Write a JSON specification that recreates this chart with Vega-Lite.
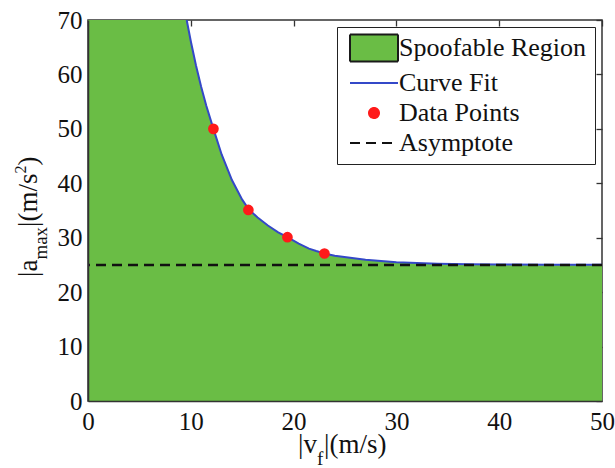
{
  "$schema": "https://vega.github.io/schema/vega-lite/v6.json",
  "width": 514,
  "height": 381,
  "autosize": {"type": "none"},
  "padding": {"left": 88, "top": 20, "right": 13, "bottom": 67},
  "background": "white",
  "config": {
    "font": "Liberation Serif",
    "view": {"stroke": "#333333", "strokeWidth": 1.5},
    "axis": {"labelFont": "Liberation Serif", "labelFontSize": 25, "labelColor": "#111111", "grid": false},
    "legend": {"orient": "top-right", "offset": 7, "padding": 8, "fillColor": "white", "strokeColor": "#222222", "labelFont": "Liberation Serif", "labelFontSize": 26, "labelColor": "#111111", "labelOffset": 12, "symbolOffset": 16, "symbolSize": 100, "symbolStrokeWidth": 2, "rowPadding": 4, "labelLimit": 400}
  },
  "datasets": {
    "region": [
      {"v": 0, "a": 70}, {"v": 9.6, "a": 70}, {"v": 10, "a": 66.1}, {"v": 10.5, "a": 61.7}, {"v": 11, "a": 57.8}, {"v": 11.5, "a": 54.3}, {"v": 12.2, "a": 50}, {"v": 13, "a": 45.3}, {"v": 14, "a": 40.6}, {"v": 15, "a": 37}, {"v": 15.6, "a": 35.3}, {"v": 16.5, "a": 33.7}, {"v": 17.5, "a": 32.25}, {"v": 18.5, "a": 31}, {"v": 19.4, "a": 30.1}, {"v": 20.5, "a": 28.9}, {"v": 21.5, "a": 28}, {"v": 22.2, "a": 27.55}, {"v": 23, "a": 27.1}, {"v": 24, "a": 26.7}, {"v": 25.5, "a": 26.3}, {"v": 27, "a": 25.95}, {"v": 28.5, "a": 25.7}, {"v": 30, "a": 25.5}, {"v": 32, "a": 25.35}, {"v": 34, "a": 25.23}, {"v": 37, "a": 25.13}, {"v": 40, "a": 25.07}, {"v": 45, "a": 25.03}, {"v": 50, "a": 25.01}
    ],
    "curve": [
      {"v": 9.6, "a": 70}, {"v": 10, "a": 66.1}, {"v": 10.5, "a": 61.7}, {"v": 11, "a": 57.8}, {"v": 11.5, "a": 54.3}, {"v": 12.2, "a": 50}, {"v": 13, "a": 45.3}, {"v": 14, "a": 40.6}, {"v": 15, "a": 37}, {"v": 15.6, "a": 35.3}, {"v": 16.5, "a": 33.7}, {"v": 17.5, "a": 32.25}, {"v": 18.5, "a": 31}, {"v": 19.4, "a": 30.1}, {"v": 20.5, "a": 28.9}, {"v": 21.5, "a": 28}, {"v": 22.2, "a": 27.55}, {"v": 23, "a": 27.1}, {"v": 24, "a": 26.7}, {"v": 25.5, "a": 26.3}, {"v": 27, "a": 25.95}, {"v": 28.5, "a": 25.7}, {"v": 30, "a": 25.5}, {"v": 32, "a": 25.35}, {"v": 34, "a": 25.23}, {"v": 37, "a": 25.13}, {"v": 40, "a": 25.07}, {"v": 45, "a": 25.03}, {"v": 50, "a": 25.01}
    ],
    "points": [
      {"v": 12.2, "a": 50}, {"v": 15.6, "a": 35.1}, {"v": 19.4, "a": 30.1}, {"v": 23.0, "a": 27.1}
    ]
  },
  "resolve": {"axis": {"x": "independent", "y": "independent"}},
  "layer": [
    {
      "data": {"name": "region"},
      "mark": {"type": "area", "opacity": 1, "clip": true},
      "encoding": {
        "x": {"field": "v", "type": "quantitative", "scale": {"domain": [0, 50], "nice": false},
          "axis": {"orient": "bottom", "values": [0, 10, 20, 30, 40, 50], "ticks": false, "domain": true, "domainColor": "#333333", "domainWidth": 1.5, "labelPadding": 8, "labelFlush": false, "labelOverlap": false, "title": null, "zindex": 1}},
        "y": {"field": "a", "type": "quantitative", "scale": {"domain": [0, 70], "nice": false},
          "axis": {"orient": "left", "values": [0, 10, 20, 30, 40, 50, 60, 70], "ticks": false, "domain": true, "domainColor": "#333333", "domainWidth": 1.5, "labelPadding": 6, "labelFlush": false, "labelOverlap": false, "title": null, "zindex": 1}},
        "fill": {"datum": "Spoofable Region", "type": "nominal",
          "scale": {"domain": ["Spoofable Region", "Curve Fit", "Data Points", "Asymptote"], "range": ["#6abd45", "transparent", "#ff1a1a", "transparent"]},
          "legend": {"title": null}}
      }
    },
    {
      "data": {"name": "curve"},
      "mark": {"type": "line", "strokeWidth": 2, "clip": true},
      "encoding": {
        "x": {"field": "v", "type": "quantitative", "scale": {"domain": [0, 50], "nice": false},
          "axis": {"orient": "top", "values": [0, 10, 20, 30, 40, 50], "labels": false, "ticks": true, "tickSize": -6, "tickColor": "#333333", "tickWidth": 1.3, "domain": false, "title": null}},
        "y": {"field": "a", "type": "quantitative", "scale": {"domain": [0, 70], "nice": false},
          "axis": {"orient": "right", "values": [0, 10, 20, 30, 40, 50, 60, 70], "labels": false, "ticks": true, "tickSize": -6, "tickColor": "#333333", "tickWidth": 1.3, "domain": false, "title": null}},
        "stroke": {"datum": "Curve Fit", "type": "nominal",
          "scale": {"domain": ["Spoofable Region", "Curve Fit", "Data Points", "Asymptote"], "range": ["#1a1a1a", "#3448c8", "#ff1a1a", "#111111"]},
          "legend": {"title": null}}
      }
    },
    {
      "mark": {"type": "rule", "strokeWidth": 2.6},
      "data": {"values": [{}]},
      "encoding": {
        "y": {"datum": 25, "type": "quantitative", "scale": {"domain": [0, 70], "nice": false}, "axis": null},
        "stroke": {"datum": "Asymptote", "type": "nominal", "legend": {"title": null}},
        "strokeDash": {"datum": "Asymptote", "type": "nominal",
          "scale": {"domain": ["Spoofable Region", "Curve Fit", "Data Points", "Asymptote"], "range": [[1, 0], [1, 0], [1, 0], [10, 6]]},
          "legend": {"title": null}}
      }
    },
    {
      "data": {"name": "points"},
      "mark": {"type": "point", "filled": true, "size": 115, "opacity": 1},
      "encoding": {
        "x": {"field": "v", "type": "quantitative", "scale": {"domain": [0, 50], "nice": false}, "axis": null},
        "y": {"field": "a", "type": "quantitative", "scale": {"domain": [0, 70], "nice": false}, "axis": null},
        "fill": {"datum": "Data Points", "type": "nominal", "legend": {"title": null}},
        "shape": {"datum": "Data Points", "type": "nominal",
          "scale": {"domain": ["Spoofable Region", "Curve Fit", "Data Points", "Asymptote"], "range": ["M-4.8,-2.7H4.8V2.7H-4.8Z", "M-4.8,0H4.8", "circle", "M-4.8,0H4.8"]},
          "legend": {"title": null}}
      }
    },
    {
      "data": {"values": [{}]},
      "mark": {"type": "text", "align": "left", "baseline": "alphabetic", "font": "Liberation Serif", "fontSize": 27, "color": "#111111"},
      "encoding": {
        "x": {"datum": 20.43, "type": "quantitative", "scale": {"domain": [0, 50], "nice": false}, "axis": null},
        "y": {"datum": -9.55, "type": "quantitative", "scale": {"domain": [0, 70], "nice": false}, "axis": null},
        "text": {"value": "|v"}
      }
    },
    {
      "data": {"values": [{}]},
      "mark": {"type": "text", "align": "left", "baseline": "alphabetic", "font": "Liberation Serif", "fontSize": 19, "color": "#111111"},
      "encoding": {
        "x": {"datum": 22.28, "type": "quantitative", "scale": {"domain": [0, 50], "nice": false}, "axis": null},
        "y": {"datum": -11.76, "type": "quantitative", "scale": {"domain": [0, 70], "nice": false}, "axis": null},
        "text": {"value": "f"}
      }
    },
    {
      "data": {"values": [{}]},
      "mark": {"type": "text", "align": "left", "baseline": "alphabetic", "font": "Liberation Serif", "fontSize": 27, "color": "#111111"},
      "encoding": {
        "x": {"datum": 22.96, "type": "quantitative", "scale": {"domain": [0, 50], "nice": false}, "axis": null},
        "y": {"datum": -9.55, "type": "quantitative", "scale": {"domain": [0, 70], "nice": false}, "axis": null},
        "text": {"value": "|(m/s)"}
      }
    },
    {
      "data": {"values": [{}]},
      "mark": {"type": "text", "align": "left", "baseline": "alphabetic", "angle": 270, "font": "Liberation Serif", "fontSize": 27, "color": "#111111"},
      "encoding": {
        "x": {"datum": -4.96, "type": "quantitative", "scale": {"domain": [0, 50], "nice": false}, "axis": null},
        "y": {"datum": 22.78, "type": "quantitative", "scale": {"domain": [0, 70], "nice": false}, "axis": null},
        "text": {"value": "|a"}
      }
    },
    {
      "data": {"values": [{}]},
      "mark": {"type": "text", "align": "left", "baseline": "alphabetic", "angle": 270, "font": "Liberation Serif", "fontSize": 19, "color": "#111111"},
      "encoding": {
        "x": {"datum": -3.99, "type": "quantitative", "scale": {"domain": [0, 50], "nice": false}, "axis": null},
        "y": {"datum": 25.98, "type": "quantitative", "scale": {"domain": [0, 70], "nice": false}, "axis": null},
        "text": {"value": "max"}
      }
    },
    {
      "data": {"values": [{}]},
      "mark": {"type": "text", "align": "left", "baseline": "alphabetic", "angle": 270, "font": "Liberation Serif", "fontSize": 27, "color": "#111111"},
      "encoding": {
        "x": {"datum": -4.96, "type": "quantitative", "scale": {"domain": [0, 50], "nice": false}, "axis": null},
        "y": {"datum": 31.99, "type": "quantitative", "scale": {"domain": [0, 70], "nice": false}, "axis": null},
        "text": {"value": "|(m/s"}
      }
    },
    {
      "data": {"values": [{}]},
      "mark": {"type": "text", "align": "left", "baseline": "alphabetic", "angle": 270, "font": "Liberation Serif", "fontSize": 16, "color": "#111111"},
      "encoding": {
        "x": {"datum": -6.03, "type": "quantitative", "scale": {"domain": [0, 50], "nice": false}, "axis": null},
        "y": {"datum": 41.8, "type": "quantitative", "scale": {"domain": [0, 70], "nice": false}, "axis": null},
        "text": {"value": "2"}
      }
    },
    {
      "data": {"values": [{}]},
      "mark": {"type": "text", "align": "left", "baseline": "alphabetic", "angle": 270, "font": "Liberation Serif", "fontSize": 27, "color": "#111111"},
      "encoding": {
        "x": {"datum": -4.96, "type": "quantitative", "scale": {"domain": [0, 50], "nice": false}, "axis": null},
        "y": {"datum": 43.27, "type": "quantitative", "scale": {"domain": [0, 70], "nice": false}, "axis": null},
        "text": {"value": ")"}
      }
    }
  ]
}
